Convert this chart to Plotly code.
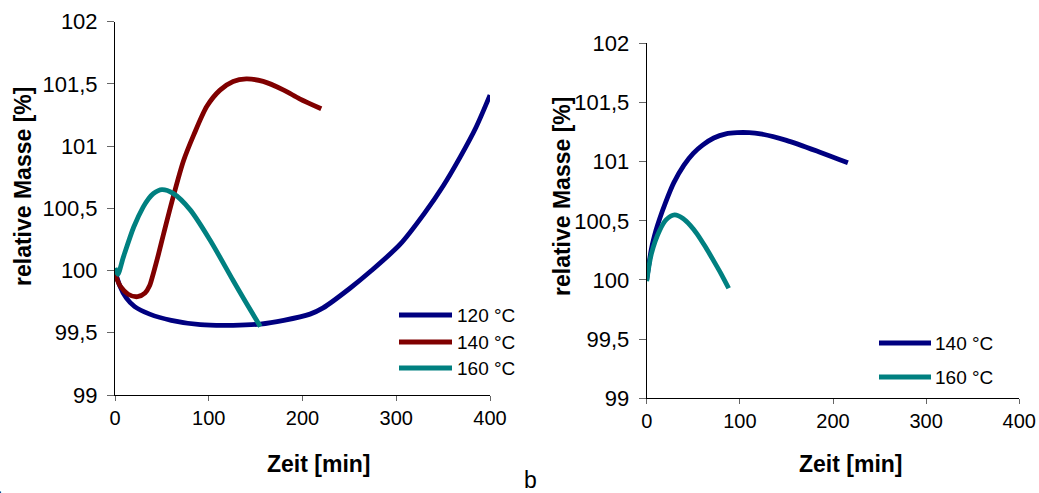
import plotly.graph_objects as go

W, H = 1039, 493

# ---- data: panel a (relative mass vs. time at three temperatures) ----
a_t120 = [0, 5, 12, 21, 37, 60, 91, 126, 155, 180, 208, 222, 251, 272, 304, 330, 350, 368, 385, 400]
a_m120 = [100.0, 99.88, 99.78, 99.71, 99.65, 99.60, 99.565, 99.56, 99.57, 99.60, 99.65, 99.70,
          99.86, 99.99, 100.21, 100.46, 100.68, 100.91, 101.15, 101.41]

a_t140 = [0, 6, 14, 24, 32, 37, 41, 46, 52, 62, 73, 84, 98, 112, 126, 140, 158, 180, 197, 220]
a_m140 = [99.97, 99.87, 99.81, 99.79, 99.82, 99.88, 99.98, 100.12, 100.30, 100.59, 100.88,
          101.09, 101.32, 101.45, 101.52, 101.54, 101.52, 101.45, 101.38, 101.30]

a_t160 = [0, 3, 9, 20, 30, 36, 41, 50, 62, 80, 101, 126, 140, 155]
a_m160 = [100.02, 99.97, 100.11, 100.35, 100.51, 100.58, 100.62, 100.65, 100.62, 100.49,
          100.25, 99.92, 99.74, 99.55]

# ---- data: panel b (two temperatures) ----
b_t140 = [0, 5, 10, 14, 20, 29, 40, 50, 60, 72, 85, 97, 110, 122, 150, 186, 216]
b_m140 = [100.0, 100.26, 100.42, 100.52, 100.65, 100.82, 100.97, 101.07, 101.14, 101.20,
          101.235, 101.245, 101.245, 101.235, 101.18, 101.08, 100.99]

b_t160 = [0, 5, 14, 21, 30, 39, 47, 54, 63, 72, 80, 88]
b_m160 = [99.99, 100.22, 100.42, 100.51, 100.55, 100.52, 100.46, 100.39, 100.28, 100.16,
          100.05, 99.93]

labels_a = ["120 °C", "140 °C", "160 °C"]
labels_b = ["140 °C", "160 °C"]

NAVY, DARKRED, TEAL = "#000080", "#800000", "#008080"
colors_a = [NAVY, DARKRED, TEAL]
colors_b = [NAVY, TEAL]

x_ticks = [0, 100, 200, 300, 400]
y_ticks = [99, 99.5, 100, 100.5, 101, 101.5, 102]

FONT = "Liberation Sans, Arial, sans-serif"


def px_x(p):
    return p / W


def px_y(p):
    return 1 - p / H


fig = go.Figure()

series_a = [(a_t120, a_m120), (a_t140, a_m140), (a_t160, a_m160)]
for (t, m), name, col in zip(series_a, labels_a, colors_a):
    fig.add_trace(go.Scatter(x=t, y=m, mode="lines", name=name, showlegend=False,
                             line=dict(color=col, width=4.8, shape="spline", smoothing=0.8),
                             xaxis="x", yaxis="y"))

series_b = [(b_t140, b_m140), (b_t160, b_m160)]
for (t, m), name, col in zip(series_b, labels_b, colors_b):
    fig.add_trace(go.Scatter(x=t, y=m, mode="lines", name=name, showlegend=False,
                             line=dict(color=col, width=4.8, shape="spline", smoothing=0.8),
                             xaxis="x2", yaxis="y2"))

axis_common = dict(showgrid=False, zeroline=False, showline=True, linecolor="black",
                   linewidth=1, ticks="outside", tickcolor="#666666", tickwidth=1,
                   automargin=False, mirror=False)
xfont = dict(family=FONT, size=20, color="black")
yfont = dict(family=FONT, size=22, color="black")

fig.update_layout(
    width=W, height=H,
    margin=dict(l=0, r=0, t=0, b=0, autoexpand=False),
    paper_bgcolor="white", plot_bgcolor="white",
    separators=",.",
    xaxis=dict(domain=[px_x(115), px_x(490)], range=[0, 400], tickvals=x_ticks,
               ticklen=5, anchor="y", tickfont=xfont, **axis_common),
    yaxis=dict(domain=[px_y(395), px_y(21.7)], range=[99, 102], tickvals=y_ticks,
               ticklen=7, ticklabelstandoff=5, anchor="x", tickfont=yfont, **axis_common),
    xaxis2=dict(domain=[px_x(646.7), px_x(1019.3)], range=[0, 400], tickvals=x_ticks,
                ticklen=5, anchor="y2", tickfont=xfont, **axis_common),
    yaxis2=dict(domain=[px_y(398.3), px_y(43.3)], range=[99, 102], tickvals=y_ticks,
                ticklen=7, ticklabelstandoff=5, anchor="x2", tickfont=yfont, **axis_common),
)

title_font = dict(family=FONT, size=23, color="black")
annotations = [
    dict(text="<b>relative Masse [%]</b>", x=px_x(23), y=px_y(187), textangle=-90,
         font=title_font),
    dict(text="<b>relative Masse [%]</b>", x=px_x(562), y=px_y(197), textangle=-90,
         font=title_font),
    dict(text="<b>Zeit [min]</b>", x=px_x(319), y=px_y(464), font=title_font),
    dict(text="<b>Zeit [min]</b>", x=px_x(851), y=px_y(464), font=title_font),
    dict(text="a", x=px_x(3), y=px_y(470), xanchor="right", yanchor="top",
         font=dict(family=FONT, size=23, color="black")),
    dict(text="b", x=px_x(522), y=px_y(495), xanchor="left", yanchor="bottom",
         font=dict(family=FONT, size=23, color="black")),
]
for a in annotations:
    a.update(xref="paper", yref="paper", showarrow=False)
    a.setdefault("xanchor", "center")
    a.setdefault("yanchor", "middle")

# legend keys drawn as short lines with labels next to them
shapes = []
leg_font = dict(family=FONT, size=19, color="black")
for i, (name, col) in enumerate(zip(labels_a, colors_a)):
    yy = [315, 342, 368][i]
    shapes.append(dict(type="line", xref="paper", yref="paper",
                       x0=px_x(399), x1=px_x(452), y0=px_y(yy), y1=px_y(yy),
                       line=dict(color=col, width=5)))
    annotations.append(dict(text=name, xref="paper", yref="paper", x=px_x(455), y=px_y(yy),
                            xanchor="left", yanchor="middle", showarrow=False, font=leg_font))
for i, (name, col) in enumerate(zip(labels_b, colors_b)):
    yy = [343, 377][i]
    shapes.append(dict(type="line", xref="paper", yref="paper",
                       x0=px_x(879), x1=px_x(931), y0=px_y(yy), y1=px_y(yy),
                       line=dict(color=col, width=5)))
    annotations.append(dict(text=name, xref="paper", yref="paper", x=px_x(933), y=px_y(yy),
                            xanchor="left", yanchor="middle", showarrow=False, font=leg_font))

fig.update_layout(annotations=annotations, shapes=shapes)

fig.write_html("out.html")
